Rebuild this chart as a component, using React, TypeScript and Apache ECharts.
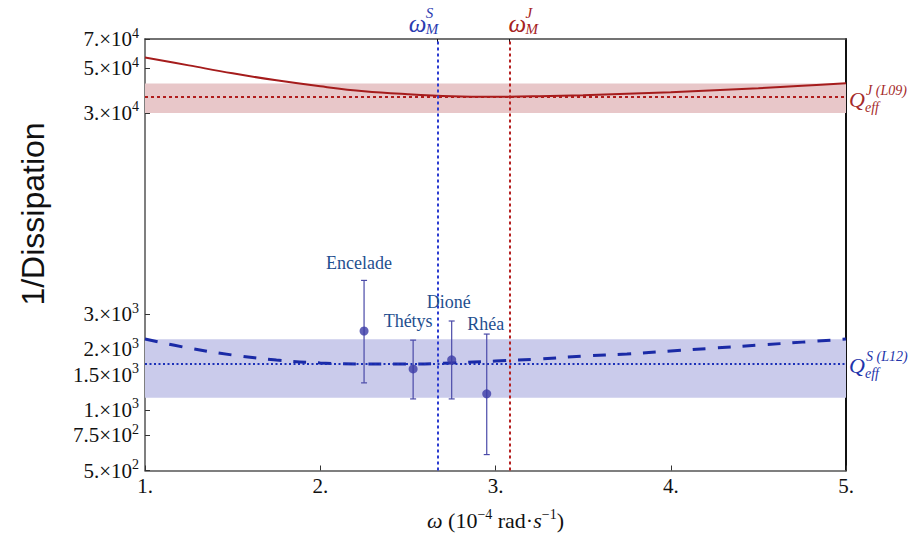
import React, { useEffect, useRef } from "react";
import * as echarts from "echarts";

// Frequency axis (units of 1e-4 rad/s)
const xMin = 1;
const xMax = 5;
const xTickValues = [1, 2, 3, 4, 5];

// Log y axis and its tick labels (mantissa × 10^exponent)
const yMin = 500;
const yMax = 70000;
const yTickValues = [500, 750, 1000, 1500, 2000, 3000, 30000, 50000, 70000];
const yTickMantissas = ["5.", "7.5", "1.", "1.5", "2.", "3.", "3.", "5.", "7."];
const yTickExponents = ["2", "2", "3", "3", "3", "3", "4", "4", "4"];

// Sampled frequencies for the model curves
const omegaGrid = [1, 1.25, 1.5, 1.75, 2, 2.25, 2.5, 2.75, 3, 3.25, 3.5, 3.75, 4, 4.25, 4.5, 4.75, 5];
// Jupiter model: 1/Dissipation
const jupiterModel = [56700, 51750, 47230, 43610, 40730, 38470, 37180, 36340, 36130, 36340, 36760, 37400, 38050, 38930, 39810, 40960, 42140];
// Saturn model: 1/Dissipation
const saturnModel = [2252, 2032, 1876, 1772, 1713, 1693, 1693, 1713, 1752, 1792, 1855, 1898, 1964, 2032, 2102, 2175, 2252];

// Observed effective Q values with uncertainty bands
const qJupiter = 36000;
const qJupiterBand = [30000, 42000];
const qSaturn = 1700;
const qSaturnBand = [1150, 2250];

// Characteristic frequencies
const omegaSaturn = 2.665;
const omegaJupiter = 3.08;

// Saturn moons: frequency, value, lower bound, upper bound
const moonNames = ["Encelade", "Thétys", "Dioné", "Rhéa"];
const moonOmega = [2.25, 2.53, 2.75, 2.95];
const moonValue = [2470, 1600, 1775, 1203];
const moonLow = [1364, 1135, 1135, 600];
const moonHigh = [4410, 2225, 2770, 2385];

// label placement for the moon names (pixel offsets from the top of each error bar)
const moonLabelOffsets: [number, number][] = [
  [-5, -17],
  [-5, -19],
  [-3, -19],
  [-1, -10],
];

const SERIF = "'Liberation Serif', 'Times New Roman', serif";
const RED = "#a51c1c";
const BLUE = "#1a2aa6";

export default function App() {
  const ref = useRef<HTMLDivElement>(null);

  useEffect(() => {
    if (!ref.current) return;
    const chart = echarts.init(ref.current, undefined, { renderer: "svg" });

    const yLabel = (v: number) => {
      let idx = 0;
      let best = Infinity;
      yTickValues.forEach((t, i) => {
        const d = Math.abs(Math.log(t) - Math.log(v));
        if (d < best) {
          best = d;
          idx = i;
        }
      });
      return `{m|${yTickMantissas[idx]}×10}{e|${yTickExponents[idx]}}`;
    };

    const option: any = {
      animation: false,
      backgroundColor: "#ffffff",
      grid: { left: 145, right: 64, top: 39, bottom: 63, containLabel: false },
      xAxis: [
        {
          type: "value",
          min: xMin,
          max: xMax,
          interval: 1,
          position: "bottom",
          axisLine: { show: true, onZero: false, lineStyle: { color: "#555", width: 1.5 } },
          axisTick: { show: true, inside: true, length: 5, lineStyle: { color: "#333" } },
          axisLabel: {
            customValues: xTickValues,
            formatter: (v: number) => `${v}.`,
            fontFamily: SERIF,
            fontSize: 21,
            color: "#111",
            margin: 5,
          },
          splitLine: { show: false },
          name: "{i|ω} (10{s|−4} rad·{i|s}{s|−1})",
          nameLocation: "middle",
          nameGap: 37,
          nameTextStyle: {
            fontFamily: SERIF,
            fontSize: 22,
            color: "#111",
            rich: {
              i: { fontFamily: SERIF, fontSize: 22, fontStyle: "italic", color: "#111" },
              s: { fontFamily: SERIF, fontSize: 14, color: "#111", padding: [0, 0, 11, 0] },
            },
          },
        },
        {
          type: "value",
          min: xMin,
          max: xMax,
          position: "top",
          axisLine: { show: true, onZero: false, lineStyle: { color: "#444", width: 1.5 } },
          axisTick: {
            show: true,
            inside: true,
            length: 5,
            customValues: [omegaSaturn, omegaJupiter],
            lineStyle: { color: "#111" },
          },
          axisLabel: { show: false },
          splitLine: { show: false },
        },
      ],
      yAxis: [
        {
          type: "log",
          logBase: 10,
          min: yMin,
          max: yMax,
          position: "left",
          axisLine: { show: true, onZero: false, lineStyle: { color: "#555", width: 1.5 } },
          axisTick: { show: true, inside: true, length: 5, customValues: yTickValues, lineStyle: { color: "#333" } },
          axisLabel: {
            customValues: yTickValues,
            formatter: yLabel,
            margin: 6,
            rich: {
              m: { fontFamily: SERIF, fontSize: 21, color: "#111" },
              e: { fontFamily: SERIF, fontSize: 14, color: "#111", padding: [0, 0, 12, 0] },
            },
          },
          splitLine: { show: false },
          minorTick: { show: false },
        },
        {
          type: "log",
          logBase: 10,
          min: yMin,
          max: yMax,
          position: "right",
          axisLine: { show: true, onZero: false, lineStyle: { color: "#111", width: 2 } },
          axisTick: { show: false },
          axisLabel: { show: false },
          splitLine: { show: false },
        },
      ],
      series: [
        {
          name: "Jupiter",
          type: "line",
          xAxisIndex: 0,
          yAxisIndex: 0,
          smooth: 0.4,
          showSymbol: false,
          z: 4,
          lineStyle: { color: RED, width: 2 },
          data: omegaGrid.map((w, i) => [w, jupiterModel[i]]),
          markArea: {
            silent: true,
            itemStyle: { color: "#e8c7c9" },
            data: [[{ yAxis: qJupiterBand[0] }, { yAxis: qJupiterBand[1] }]],
          },
          markLine: {
            silent: true,
            symbol: ["none", "none"],
            label: { show: false },
            data: [
              { yAxis: qJupiter, lineStyle: { color: "#b01c1c", width: 2, type: [3, 3] } },
              { xAxis: omegaJupiter, lineStyle: { color: "#b52020", width: 2, type: [3, 3] } },
            ],
          },
        },
        {
          name: "Saturne",
          type: "line",
          xAxisIndex: 0,
          yAxisIndex: 0,
          smooth: 0.4,
          showSymbol: false,
          z: 4,
          lineStyle: { color: BLUE, width: 3, type: [13, 12] },
          data: omegaGrid.map((w, i) => [w, saturnModel[i]]),
          markArea: {
            silent: true,
            itemStyle: { color: "#cacbeb" },
            data: [[{ yAxis: qSaturnBand[0] }, { yAxis: qSaturnBand[1] }]],
          },
          markLine: {
            silent: true,
            symbol: ["none", "none"],
            label: { show: false },
            data: [
              { yAxis: qSaturn, lineStyle: { color: "#1a30b8", width: 2, type: [2, 2.5] } },
              { xAxis: omegaSaturn, lineStyle: { color: "#2a3ad0", width: 2, type: [3, 3] } },
            ],
          },
        },
        {
          name: "errors",
          type: "custom",
          xAxisIndex: 0,
          yAxisIndex: 0,
          z: 5,
          data: moonOmega.map((w, i) => [w, moonValue[i], moonLow[i], moonHigh[i]]),
          renderItem: (params: any, api: any) => {
            const x = api.value(0);
            const lo = api.coord([x, api.value(2)]);
            const hi = api.coord([x, api.value(3)]);
            const off = moonLabelOffsets[params.dataIndex];
            const stroke = { stroke: "#4a4aa8", lineWidth: 1.2 };
            return {
              type: "group",
              children: [
                { type: "line", shape: { x1: lo[0], y1: lo[1], x2: hi[0], y2: hi[1] }, style: stroke },
                { type: "line", shape: { x1: lo[0] - 3, y1: lo[1], x2: lo[0] + 3, y2: lo[1] }, style: stroke },
                { type: "line", shape: { x1: hi[0] - 3, y1: hi[1], x2: hi[0] + 3, y2: hi[1] }, style: stroke },
                {
                  type: "text",
                  x: hi[0] + off[0],
                  y: hi[1] + off[1],
                  style: {
                    text: moonNames[params.dataIndex],
                    fill: "#1f4f8f",
                    font: `18px ${SERIF}`,
                    align: "center",
                    verticalAlign: "middle",
                  },
                },
              ],
            };
          },
        },
        {
          name: "moons",
          type: "scatter",
          xAxisIndex: 0,
          yAxisIndex: 0,
          z: 6,
          symbol: "circle",
          symbolSize: 9,
          itemStyle: { color: "#3b3ba6" },
          data: moonOmega.map((w, i) => [w, moonValue[i]]),
        },
      ],
    };

    chart.setOption(option);

    // annotations anchored to data coordinates
    const pS = chart.convertToPixel({ xAxisIndex: 0, yAxisIndex: 0 }, [omegaSaturn, qJupiter]) as number[];
    const pJ = chart.convertToPixel({ xAxisIndex: 0, yAxisIndex: 0 }, [omegaJupiter, qJupiter]) as number[];
    const qJ = chart.convertToPixel({ xAxisIndex: 0, yAxisIndex: 0 }, [xMax, qJupiter]) as number[];
    const qS = chart.convertToPixel({ xAxisIndex: 0, yAxisIndex: 0 }, [xMax, qSaturn]) as number[];

    const omegaLabel = (x0: number, sup: string, color: string) => ({
      type: "group",
      children: [
        { type: "text", x: x0, y: 23, style: { text: "ω", fill: color, font: `italic 25px ${SERIF}`, verticalAlign: "middle" } },
        { type: "text", x: x0 + 17, y: 13, style: { text: sup, fill: color, font: `italic 15px ${SERIF}`, verticalAlign: "middle" } },
        { type: "text", x: x0 + 17, y: 29, style: { text: "M", fill: color, font: `italic 15px ${SERIF}`, verticalAlign: "middle" } },
      ],
    });

    const qLabel = (x0: number, y0: number, sup: string, color: string) => ({
      type: "group",
      children: [
        { type: "text", x: x0, y: y0 + 2, style: { text: "Q", fill: color, font: `italic 22px ${SERIF}`, verticalAlign: "middle" } },
        { type: "text", x: x0 + 16, y: y0 + 10, style: { text: "eff", fill: color, font: `italic 14px ${SERIF}`, verticalAlign: "middle" } },
        { type: "text", x: x0 + 17, y: y0 - 7, style: { text: sup, fill: color, font: `italic 14px ${SERIF}`, verticalAlign: "middle" } },
      ],
    });

    chart.setOption({
      graphic: [
        omegaLabel(pS[0] - 28, "S", "#2b3bb0"),
        omegaLabel(pJ[0] - 1, "J", "#a52222"),
        qLabel(qJ[0] + 3, qJ[1], "J (L09)", "#a52a2a"),
        qLabel(qS[0] + 3, qS[1], "S (L12)", "#2233aa"),
        {
          type: "text",
          x: 33,
          y: 214,
          rotation: Math.PI / 2,
          style: {
            text: "1/Dissipation",
            fill: "#111",
            font: "32px 'Liberation Sans', Arial, sans-serif",
            align: "center",
            verticalAlign: "middle",
          },
        },
      ],
    });

    return () => chart.dispose();
  }, []);

  return (
    <div
      ref={ref}
      style={{ position: "fixed", left: 0, top: 0, width: 910, height: 536 }}
    />
  );
}
